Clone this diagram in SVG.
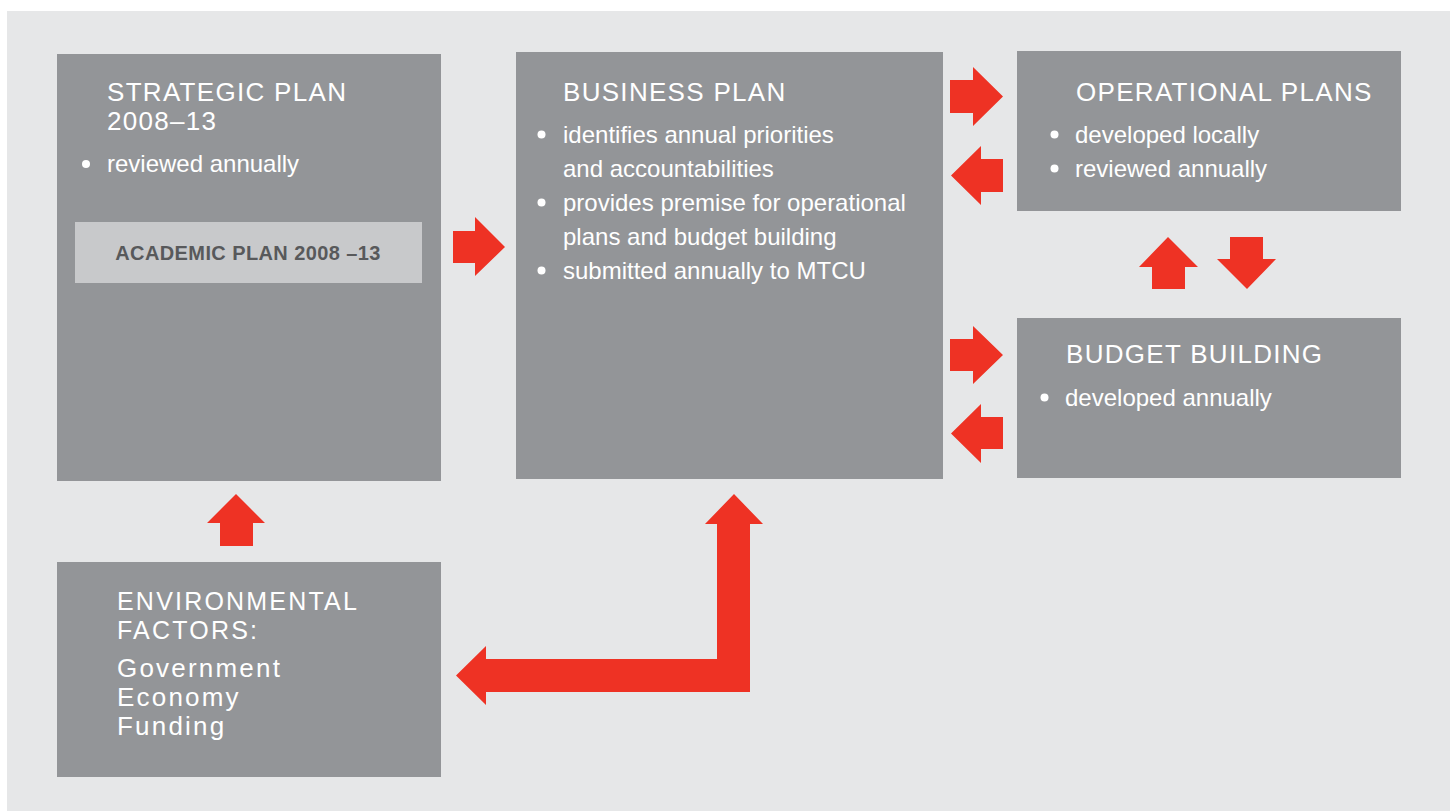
<svg xmlns="http://www.w3.org/2000/svg" width="1450" height="812" viewBox="0 0 1450 812">
  <style>
    .box { fill: #939598; }
    .title { font-family: "Liberation Sans", Arial, sans-serif; font-size: 26px; fill: #ffffff; letter-spacing: 1.3px; }
    .item { font-family: "Liberation Sans", Arial, sans-serif; font-size: 24px; fill: #ffffff; }
    .env { font-family: "Liberation Sans", Arial, sans-serif; font-size: 25px; fill: #ffffff; letter-spacing: 2.2px; }
    .envitem { font-family: "Liberation Sans", Arial, sans-serif; font-size: 26px; fill: #ffffff; letter-spacing: 2.2px; }
    .dot { fill: #ffffff; }
    .arrow { fill: #ee3224; }
  </style>

  <rect width="1450" height="812" fill="#ffffff"/>
  <rect x="7" y="11" width="1443" height="800" fill="#e6e7e8"/>

  <g id="strategic-plan">
    <rect class="box" x="57" y="54" width="384" height="427"/>
    <text class="title" x="107" y="101">STRATEGIC PLAN</text>
    <text class="title" x="107" y="130">2008–13</text>
    <circle class="dot" cx="86" cy="164" r="4"/>
    <text class="item" x="107" y="172">reviewed annually</text>
    <g id="academic-plan">
      <rect x="75" y="222" width="347" height="61" fill="#c8c9cb"/>
      <text x="248" y="260" text-anchor="middle" font-family="'Liberation Sans', Arial, sans-serif" font-size="20" font-weight="bold" letter-spacing="0.4" fill="#58595b">ACADEMIC PLAN 2008 –13</text>
    </g>
  </g>

  <g id="business-plan">
    <rect class="box" x="516" y="52" width="427" height="427"/>
    <text class="title" x="563" y="101">BUSINESS PLAN</text>
    <circle class="dot" cx="541.5" cy="134.5" r="4"/>
    <text class="item" x="563" y="143">identifies annual priorities</text>
    <text class="item" x="563" y="177">and accountabilities</text>
    <circle class="dot" cx="541.5" cy="202.5" r="4"/>
    <text class="item" x="563" y="211">provides premise for operational</text>
    <text class="item" x="563" y="245">plans and budget building</text>
    <circle class="dot" cx="541.5" cy="270.5" r="4"/>
    <text class="item" x="563" y="279">submitted annually to MTCU</text>
  </g>

  <g id="operational-plans">
    <rect class="box" x="1017" y="51" width="384" height="160"/>
    <text class="title" x="1076" y="101">OPERATIONAL PLANS</text>
    <circle class="dot" cx="1054.5" cy="134.5" r="4"/>
    <text class="item" x="1075" y="143">developed locally</text>
    <circle class="dot" cx="1054.5" cy="168.5" r="4"/>
    <text class="item" x="1075" y="177">reviewed annually</text>
  </g>

  <g id="budget-building">
    <rect class="box" x="1017" y="318" width="384" height="160"/>
    <text class="title" x="1066" y="363">BUDGET BUILDING</text>
    <circle class="dot" cx="1044.5" cy="397.5" r="4"/>
    <text class="item" x="1065" y="406">developed annually</text>
  </g>

  <g id="environmental-factors">
    <rect class="box" x="57" y="562" width="384" height="215"/>
    <text class="env" x="117" y="610">ENVIRONMENTAL</text>
    <text class="env" x="117" y="639">FACTORS:</text>
    <text class="envitem" x="117" y="677">Government</text>
    <text class="envitem" x="117" y="706">Economy</text>
    <text class="envitem" x="117" y="735">Funding</text>
  </g>

  <g id="connectors">
    <!-- strategic plan to business plan -->
    <polygon class="arrow" points="453,231 475,231 475,217 505,247 475,276 475,263 453,263"/>
    <!-- business plan and operational plans -->
    <polygon class="arrow" points="950,80 973,80 973,67 1003,96.5 973,126 973,113 950,113"/>
    <polygon class="arrow" points="951,175.5 981,146 981,159 1003,159 1003,192 981,192 981,205"/>
    <!-- operational plans and budget building -->
    <polygon class="arrow" points="1168,237 1198,267 1185,267 1185,289 1152,289 1152,267 1139,267"/>
    <polygon class="arrow" points="1230,237 1263,237 1263,259 1276,259 1247,289 1217,259 1230,259"/>
    <!-- business plan and budget building -->
    <polygon class="arrow" points="950,339 973,339 973,326 1003,355 973,384 973,371 950,371"/>
    <polygon class="arrow" points="951,433.5 981,404 981,417 1003,417 1003,449 981,449 981,463"/>
    <!-- environmental factors to strategic plan -->
    <polygon class="arrow" points="236,494 265,523 253,523 253,546 220,546 220,523 207,523"/>
    <!-- business plan and environmental factors -->
    <polygon class="arrow" points="734,494 763,524 750,524 750,692 486,692 486,705 456,675.5 486,646 486,659 717,659 717,524 705,524"/>
  </g>
</svg>
